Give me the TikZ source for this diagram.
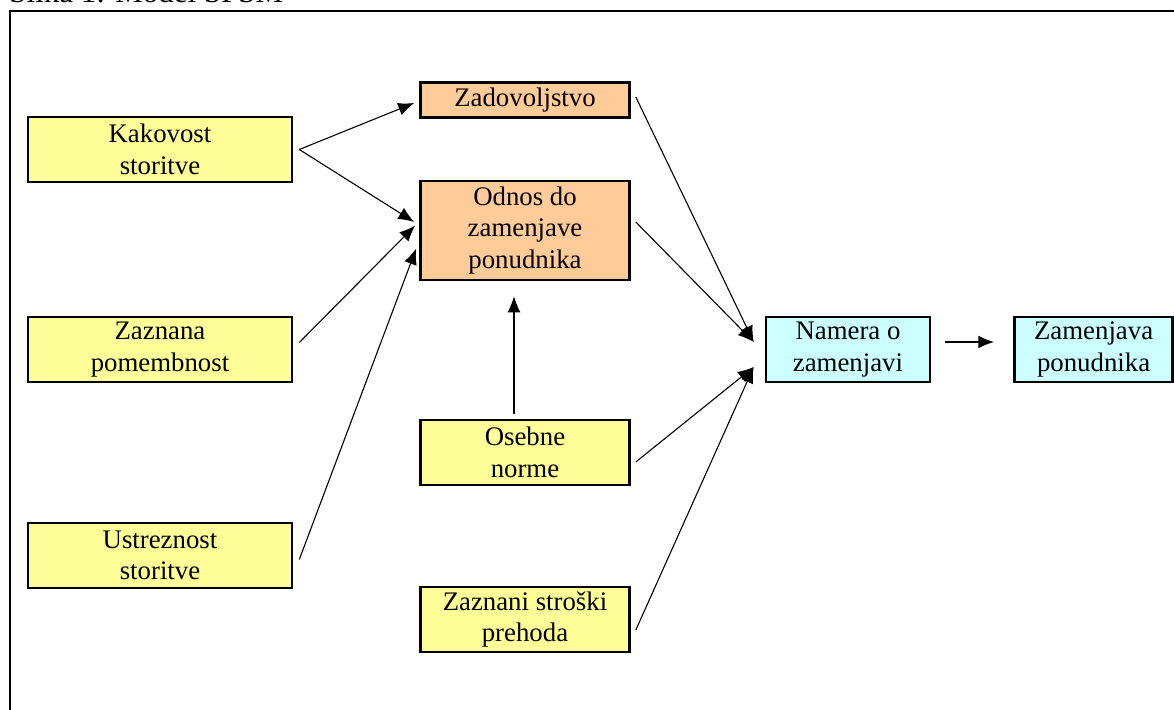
\documentclass[tikz,border=0pt]{standalone}
\usepackage{fontspec}
\setmainfont{Liberation Serif}
\usetikzlibrary{positioning,arrows.meta}
\definecolor{lemon}{HTML}{FFFF99}
\definecolor{peach}{HTML}{FFCC99}
\definecolor{icecyan}{HTML}{CCFFFF}

\begin{document}
\begin{tikzpicture}[x=0.5pt,y=-0.5pt,box/.style={draw=black,line width=1.3pt,align=center,inner sep=0pt,font=\fontsize{13.4}{15.8}\selectfont},lbox/.style={box,fill=lemon,minimum width=132pt,minimum height=32.5pt},mbox/.style={box,minimum width=104.5pt,minimum height=32.5pt},rbox/.style={box,fill=icecyan,minimum height=32.5pt},arr/.style={-{Latex[length=8pt,width=6.5pt]},line width=0.55pt}]
    \clip (0,0) rectangle (1174,710);
    \node[anchor=base west,inner sep=0pt,font=\fontsize{15.5}{18}\selectfont] (title) at (9,3) {Slika 1: Model SPSM};
    \draw[line width=1pt] (1200,11) -- (10,11) -- (10,740);
    \node[lbox] (kak) at (160,149.5) {Kakovost\\storitve};
    \node[lbox] (zaz) at (160,349.5) {Zaznana\\pomembnost};
    \node[lbox] (ust) at (160,555.5) {Ustreznost\\storitve};
    \node[mbox,fill=peach,minimum height=17.5pt] (zad) at (525,100) {Zadovoljstvo};
    \node[mbox,fill=peach,minimum height=49.5pt] (odn) at (525,230.5) {Odnos do\\zamenjave\\ponudnika};
    \node[mbox,fill=lemon] (ose) at (525,452.5) {Osebne\\norme};
    \node[mbox,fill=lemon] (str) at (525,619.5) {Zaznani stroški\\prehoda};
    \node[rbox,minimum width=82pt] (nam) at (848,349.5) {Namera o\\zamenjavi};
    \node[rbox,minimum width=79pt,right=41pt of nam] (zam) {Zamenjava\\ponudnika};
    \draw[arr] ([shift={(6,0)}]kak.east) -- ([shift={(-5,3)}]zad.west);
    \draw[arr] ([shift={(6,0)}]kak.east) -- ([shift={(-5,-8.5)}]odn.west);
    \draw[arr] ([shift={(6,-7)}]zaz.east) -- ([shift={(-4,-5)}]odn.west);
    \draw[arr] ([shift={(6,4)}]ust.east) -- ([shift={(-3,18)}]odn.west);
    \draw[arr] ([shift={(-11,-5)}]ose.north) -- ([shift={(-11,15)}]odn.south);
    \draw[arr] ([shift={(5,-3)}]zad.east) -- ([shift={(-11,-7.5)}]nam.west);
    \draw[arr] ([shift={(5,-8.5)}]odn.east) -- ([shift={(-11,-7.5)}]nam.west);
    \draw[arr] ([shift={(5,9.5)}]ose.east) -- ([shift={(-11,17.5)}]nam.west);
    \draw[arr] ([shift={(5,10.5)}]str.east) -- ([shift={(-11,17.5)}]nam.west);
    \draw[arr,line width=1pt] ([shift={(14,-7.5)}]nam.east) -- ([shift={(-19,-7.5)}]zam.west);
  \end{tikzpicture}
\end{document}
